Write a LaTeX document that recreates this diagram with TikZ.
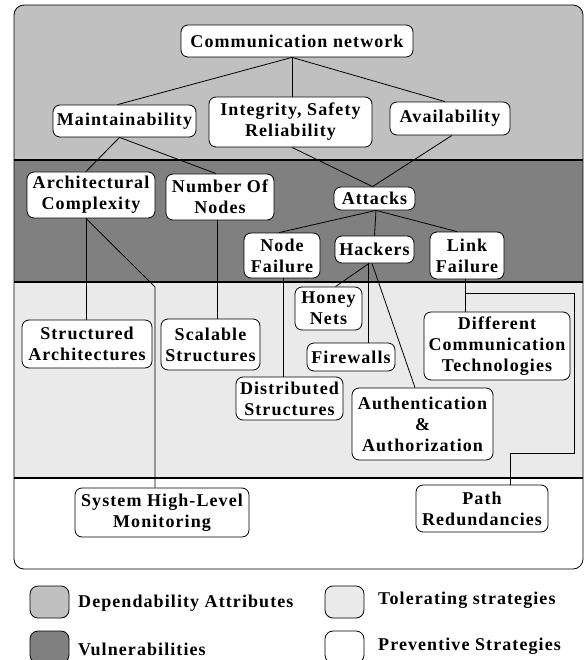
\documentclass[tikz,border=0pt]{standalone}
\usepackage{fontspec}
\setmainfont{Liberation Serif}[LetterSpace=6]
\usetikzlibrary{calc}
\definecolor{attr}{HTML}{C0C0C0}
\definecolor{vuln}{HTML}{808080}
\definecolor{tol}{HTML}{EAEAEA}
\begin{document}
\begin{tikzpicture}[x=1pt,y=-1pt,
 box/.style={draw=black, fill=white, rounded corners=7pt, align=center, inner sep=0pt, line width=0.8pt, font=\fontsize{18}{21}\selectfont\bfseries},
 conn/.style={draw=black, line width=0.8pt},
 bandline/.style={draw=black, line width=1.6pt},
 swatch/.style={draw=black, rounded corners=8pt, minimum width=39pt, minimum height=32pt, line width=0.8pt, inner sep=0pt},
 legtext/.style={anchor=west, font=\fontsize{18}{21}\selectfont\bfseries, inner sep=0pt}
]
\useasboundingbox (0,0) rectangle (584,660);
% bands
\begin{scope}
\clip[rounded corners=10pt] (14,5) rectangle (583,569);
\fill[attr] (14,5) rectangle (583,160);
\fill[vuln] (14,160) rectangle (583,282);
\fill[tol] (14,282) rectangle (583,478);
\fill[white] (14,478) rectangle (583,569);
\end{scope}
\draw[bandline] (14,160) -- (583,160);
\draw[bandline] (14,282) -- (583,282);
\draw[bandline] (14,478) -- (583,478);
\draw[line width=0.8pt, rounded corners=10pt] (14,5) rectangle (583,569);

% nodes
\node[box, minimum width=232pt, minimum height=32pt] (cn) at (297,41) {Communication network};
\node[box, minimum width=143pt, minimum height=32pt] (maint) at (124.5,121) {Maintainability};
\node[box, minimum width=163pt, minimum height=50pt] (integ) at (290.5,122) {Integrity, Safety\\Reliability};
\node[box, minimum width=120pt, minimum height=33pt] (avail) at (450,118.5) {Availability};
\node[box, minimum width=128pt, minimum height=46pt] (arch) at (91,195) {Architectural\\Complexity};
\node[box, minimum width=108pt, minimum height=46pt] (numn) at (220,197) {Number Of\\Nodes};
\node[box, minimum width=81pt, minimum height=23pt] (attacks) at (374.5,198.5) {Attacks};
\node[box, minimum width=76pt, minimum height=45pt] (nodef) at (282,255.5) {Node\\Failure};
\node[box, minimum width=79pt, minimum height=27pt] (hackers) at (374.5,249.5) {Hackers};
\node[box, minimum width=74pt, minimum height=47pt] (linkf) at (467,255.5) {Link\\Failure};
\node[box, minimum width=67pt, minimum height=43pt] (honey) at (328.5,308.5) {Honey\\Nets};
\node[box, minimum width=88pt, minimum height=28pt] (firew) at (351,357) {Firewalls};
\node[box, minimum width=146pt, minimum height=68pt] (dct) at (497,346) {Different\\Communication\\Technologies};
\node[box, minimum width=130pt, minimum height=48pt] (struct) at (87,344) {Structured\\Architectures};
\node[box, minimum width=99pt, minimum height=51pt] (scal) at (210.5,344.5) {Scalable\\Structures};
\node[box, minimum width=107pt, minimum height=43pt] (distr) at (289.5,398.5) {Distributed\\Structures};
\node[box, minimum width=141pt, minimum height=72pt] (auth) at (422.5,424) {Authentication\\\&\\Authorization};
\node[box, minimum width=174pt, minimum height=49pt] (shlm) at (162,512.5) {System High-Level\\Monitoring};
\node[box, minimum width=132pt, minimum height=47pt] (path) at (482,508.5) {Path\\Redundancies};

% connectors
\coordinate (cnj) at ([xshift=-5pt]cn.south);
\draw[conn] (cnj) -- ([xshift=-7pt]maint.north);
\draw[conn] (cnj) -- (cnj |- integ.north);
\draw[conn] (cnj) -- ([xshift=-5pt]avail.north);
\coordinate (mj) at ([xshift=-5pt]maint.south);
\draw[conn] (mj) -- ([xshift=-5pt]arch.north);
\draw[conn] (mj) -- ([xshift=-4pt]numn.north);
\coordinate (atj) at ([xshift=-2pt]attacks.north);
\draw[conn] ([xshift=1.5pt]integ.south) -- (atj);
\draw[conn] ([xshift=2pt]avail.south) -- (atj);
\coordinate (atb) at ([xshift=1.5pt]attacks.south);
\draw[conn] (atb) -- ([xshift=-3pt]nodef.north);
\draw[conn] (atb) -- (hackers.north);
\draw[conn] (atb) -- ([xshift=-10pt]linkf.north);
\coordinate (archb) at ([xshift=-5pt]arch.south);
\draw[conn] (archb) -- (archb |- struct.north);
\coordinate (archbend) at (155,287);
\draw[conn] (archb) -- (archbend) -- (archbend |- shlm.north);
\coordinate (numb) at ([xshift=-3pt]numn.south);
\draw[conn] (numb) -- (numb |- scal.north);
\coordinate (nfb) at ([xshift=1pt]nodef.south);
\draw[conn] (nfb) -- (nfb |- distr.north);
\draw[conn] ([xshift=-5.5pt]hackers.south) -- ([xshift=7pt]honey.north);
\coordinate (hkb) at ([xshift=-6.5pt]hackers.south);
\draw[conn] (hkb) -- (hkb |- firew.north);
\draw[conn] ([xshift=-2.5pt]hackers.south) -- ([xshift=-7.5pt]auth.north);
\coordinate (lfb) at ([xshift=-2pt]linkf.south);
\draw[conn] (lfb) -- (lfb |- dct.north);
\coordinate (r0) at (465,293);
\coordinate (r1) at (574,293);
\coordinate (r2) at (574,453);
\coordinate (r3) at (510,453);
\draw[conn] (r0) -- (r1) -- (r2) -- (r3) -- (r3 |- path.north);

% legend
\node[swatch, fill=attr] (ldep) at (49.5,602) {};
\node[swatch, fill=vuln] (lvul) at (49.5,647) {};
\node[swatch, fill=tol] (ltol) at (344.5,602) {};
\node[swatch, fill=white] (lpre) at (344.5,647) {};
\node[legtext] (tdep) at (78,603) {Dependability Attributes};
\node[legtext] (tvul) at (78,649) {Vulnerabilities};
\node[legtext] (ttol) at (378,600) {Tolerating strategies};
\node[legtext] (tpre) at (378,646) {Preventive Strategies};
\end{tikzpicture}
\end{document}
